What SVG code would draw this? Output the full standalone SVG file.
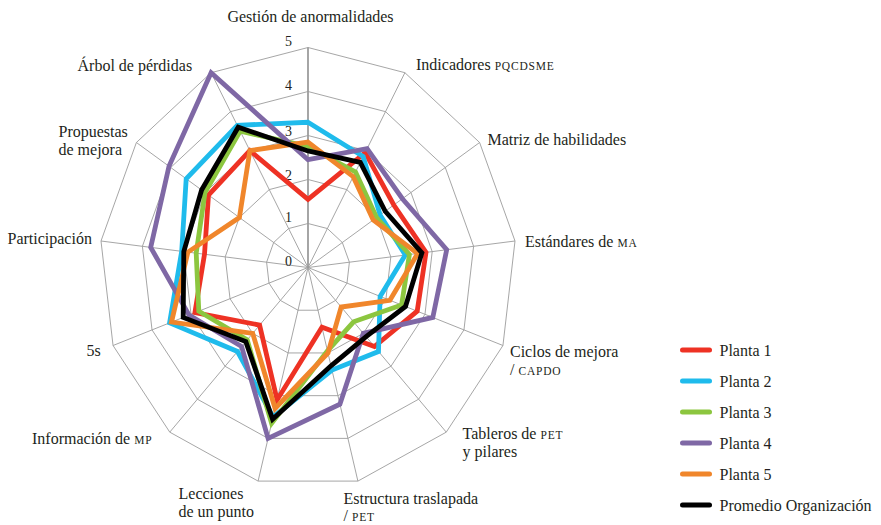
<svg xmlns="http://www.w3.org/2000/svg" width="881" height="525" viewBox="0 0 881 525">
<style>
.ring{fill:none;stroke:#9c9c9c;stroke-width:0.9}
.spoke{fill:none;stroke:#9c9c9c;stroke-width:0.9}
.axis{fill:none;stroke:#9c9c9c;stroke-width:1.8}
.lbl{font-family:"Liberation Serif","Times New Roman",serif;font-size:16px;fill:#231f20}
.sc{font-size:11.5px;letter-spacing:0.8px}
.num{font-family:"Liberation Serif","Times New Roman",serif;font-size:14px;fill:#231f20;text-anchor:middle}
.ser{fill:none;stroke-width:4.8;stroke-linejoin:miter;stroke-miterlimit:10}
.leg{stroke-width:5;stroke-linecap:round}
.p1{stroke:#ee3224}
.p2{stroke:#1fbbec}
.p3{stroke:#8cc63f}
.p4{stroke:#7f68a5}
.p5{stroke:#f0862b}
.avg{stroke:#000000}
</style>
<rect width="881" height="525" fill="#ffffff"/>
<g id="grid">
<polygon class="ring" points="308,223.5 327.38,228.54 342.32,242.5 349.4,262.2 346.99,283.1 335.65,300.43 317.98,310.22 298.02,310.22 280.35,300.43 269.01,283.1 266.6,262.2 273.68,242.5 288.62,228.54"/>
<polygon class="ring" points="308,179.5 346.76,189.58 376.64,217.5 390.8,256.9 385.98,298.7 363.3,333.36 327.96,352.94 288.04,352.94 252.7,333.36 230.02,298.7 225.2,256.9 239.36,217.5 269.24,189.58"/>
<polygon class="ring" points="308,135.5 366.14,150.62 410.96,192.5 432.2,251.6 424.97,314.3 390.95,366.29 337.94,395.66 278.06,395.66 225.05,366.29 191.03,314.3 183.8,251.6 205.04,192.5 249.86,150.62"/>
<polygon class="ring" points="308,91.5 385.52,111.66 445.28,167.5 473.6,246.3 463.96,329.9 418.6,399.22 347.92,438.38 268.08,438.38 197.4,399.22 152.04,329.9 142.4,246.3 170.72,167.5 230.48,111.66"/>
<polygon class="ring" points="308,47.5 404.9,72.7 479.6,142.5 515,241 502.95,345.5 446.25,432.15 357.9,481.1 258.1,481.1 169.75,432.15 113.05,345.5 101,241 136.4,142.5 211.1,72.7"/>
<path class="spoke" d="M308,267.5L404.9,72.7M308,267.5L479.6,142.5M308,267.5L515,241M308,267.5L502.95,345.5M308,267.5L446.25,432.15M308,267.5L357.9,481.1M308,267.5L258.1,481.1M308,267.5L169.75,432.15M308,267.5L113.05,345.5M308,267.5L101,241M308,267.5L136.4,142.5M308,267.5L211.1,72.7"/>
<path class="axis" d="M308,267.5V47.5"/>
</g>
<g id="scale">
<text class="num" x="288.5" y="266">0</text>
<text class="num" x="288.5" y="222">1</text>
<text class="num" x="288.5" y="180">2</text>
<text class="num" x="288.5" y="136">3</text>
<text class="num" x="288.5" y="90">4</text>
<text class="num" x="288.5" y="46">5</text>
</g>
<g id="series">
<polygon id="planta1" class="ser p1" points="308,199.3 365.2,152.6 393.8,205 426,252.4 417.2,311.2 374.4,346.5 322,327.3 277.1,399.9 259.6,325.1 194.9,312.7 204.5,254.3 208.5,195 249.9,150.6"/>
<polygon id="planta2" class="ser p2" points="308,122.3 363.2,156.5 380.1,215 405.3,255 380.1,296.4 378.5,351.5 332,370 273.1,417 237.5,351.5 169.6,322.9 181.7,251.3 186.2,178.75 237.3,125.3"/>
<polygon id="planta3" class="ser p3" points="308,146.5 355.5,172 376.6,217.5 409.4,254.5 401.6,304.9 353.6,321.8 327.5,350.8 271.6,423.4 247.2,339.9 198.8,311.2 196.2,253.2 205,192.5 240.2,131.1"/>
<polygon id="planta4" class="ser p4" points="308,159.7 367.1,148.7 402.4,198.75 446.7,249.7 432.8,317.4 363.3,333.4 339.9,404.2 268.1,438.4 241.6,346.5 189.1,315.1 150.7,247.4 169,166.25 211.1,72.7"/>
<polygon id="planta5" class="ser p5" points="308,142.1 353.2,176.7 373.2,220 417.7,253.5 389.9,300.3 341.2,307 328,352.9 275.1,408.5 252.7,333.4 171.5,322.1 187.9,252.1 239.4,217.5 249.9,150.6"/>
<polygon id="promedio" class="ser avg" stroke-width="5.2" points="308,150.9 360.3,162.3 385.2,211.25 421.9,252.9 405.5,306.5 366.1,336.7 331,365.8 272.6,419.2 245.8,341.6 183.2,317.4 183.8,251.6 201.6,190 238.2,127.2"/>
</g>
<g id="axis-labels">
<text class="lbl" x="310.5" y="21.5" text-anchor="middle">Gestión de anormalidades</text>
<text class="lbl" x="416" y="69.5">Indicadores <tspan class="sc">PQCDSME</tspan></text>
<text class="lbl" x="487.5" y="144.5">Matriz de habilidades</text>
<text class="lbl" x="525" y="246.5">Estándares de <tspan class="sc">MA</tspan></text>
<text class="lbl" x="510" y="356.5">Ciclos de mejora</text>
<text class="lbl" x="510" y="374.5">/ <tspan class="sc">CAPDO</tspan></text>
<text class="lbl" x="462.5" y="439">Tableros de <tspan class="sc">PET</tspan></text>
<text class="lbl" x="462.5" y="457">y pilares</text>
<text class="lbl" x="343.5" y="503.5">Estructura traslapada</text>
<text class="lbl" x="343.5" y="520.5">/ <tspan class="sc">PET</tspan></text>
<text class="lbl" x="178.5" y="499">Lecciones</text>
<text class="lbl" x="178.5" y="516.5">de un punto</text>
<text class="lbl" x="32" y="443.5">Información de <tspan class="sc">MP</tspan></text>
<text class="lbl" x="86.5" y="356">5s</text>
<text class="lbl" x="7.5" y="244">Participación</text>
<text class="lbl" x="58.5" y="137">Propuestas</text>
<text class="lbl" x="58.5" y="155">de mejora</text>
<text class="lbl" x="77.5" y="70.5">Árbol de pérdidas</text>
</g>
<g id="legend">
<line class="leg p1" x1="682.5" y1="350" x2="709.5" y2="350"/>
<text class="lbl" x="719.5" y="355.5">Planta 1</text>
<line class="leg p2" x1="682.5" y1="381" x2="709.5" y2="381"/>
<text class="lbl" x="719.5" y="386.5">Planta 2</text>
<line class="leg p3" x1="682.5" y1="412" x2="709.5" y2="412"/>
<text class="lbl" x="719.5" y="417.5">Planta 3</text>
<line class="leg p4" x1="682.5" y1="443" x2="709.5" y2="443"/>
<text class="lbl" x="719.5" y="448.5">Planta 4</text>
<line class="leg p5" x1="682.5" y1="474" x2="709.5" y2="474"/>
<text class="lbl" x="719.5" y="479.5">Planta 5</text>
<line class="leg avg" x1="682.5" y1="505" x2="709.5" y2="505"/>
<text class="lbl" x="719.5" y="510.5">Promedio Organización</text>
</g>
</svg>
